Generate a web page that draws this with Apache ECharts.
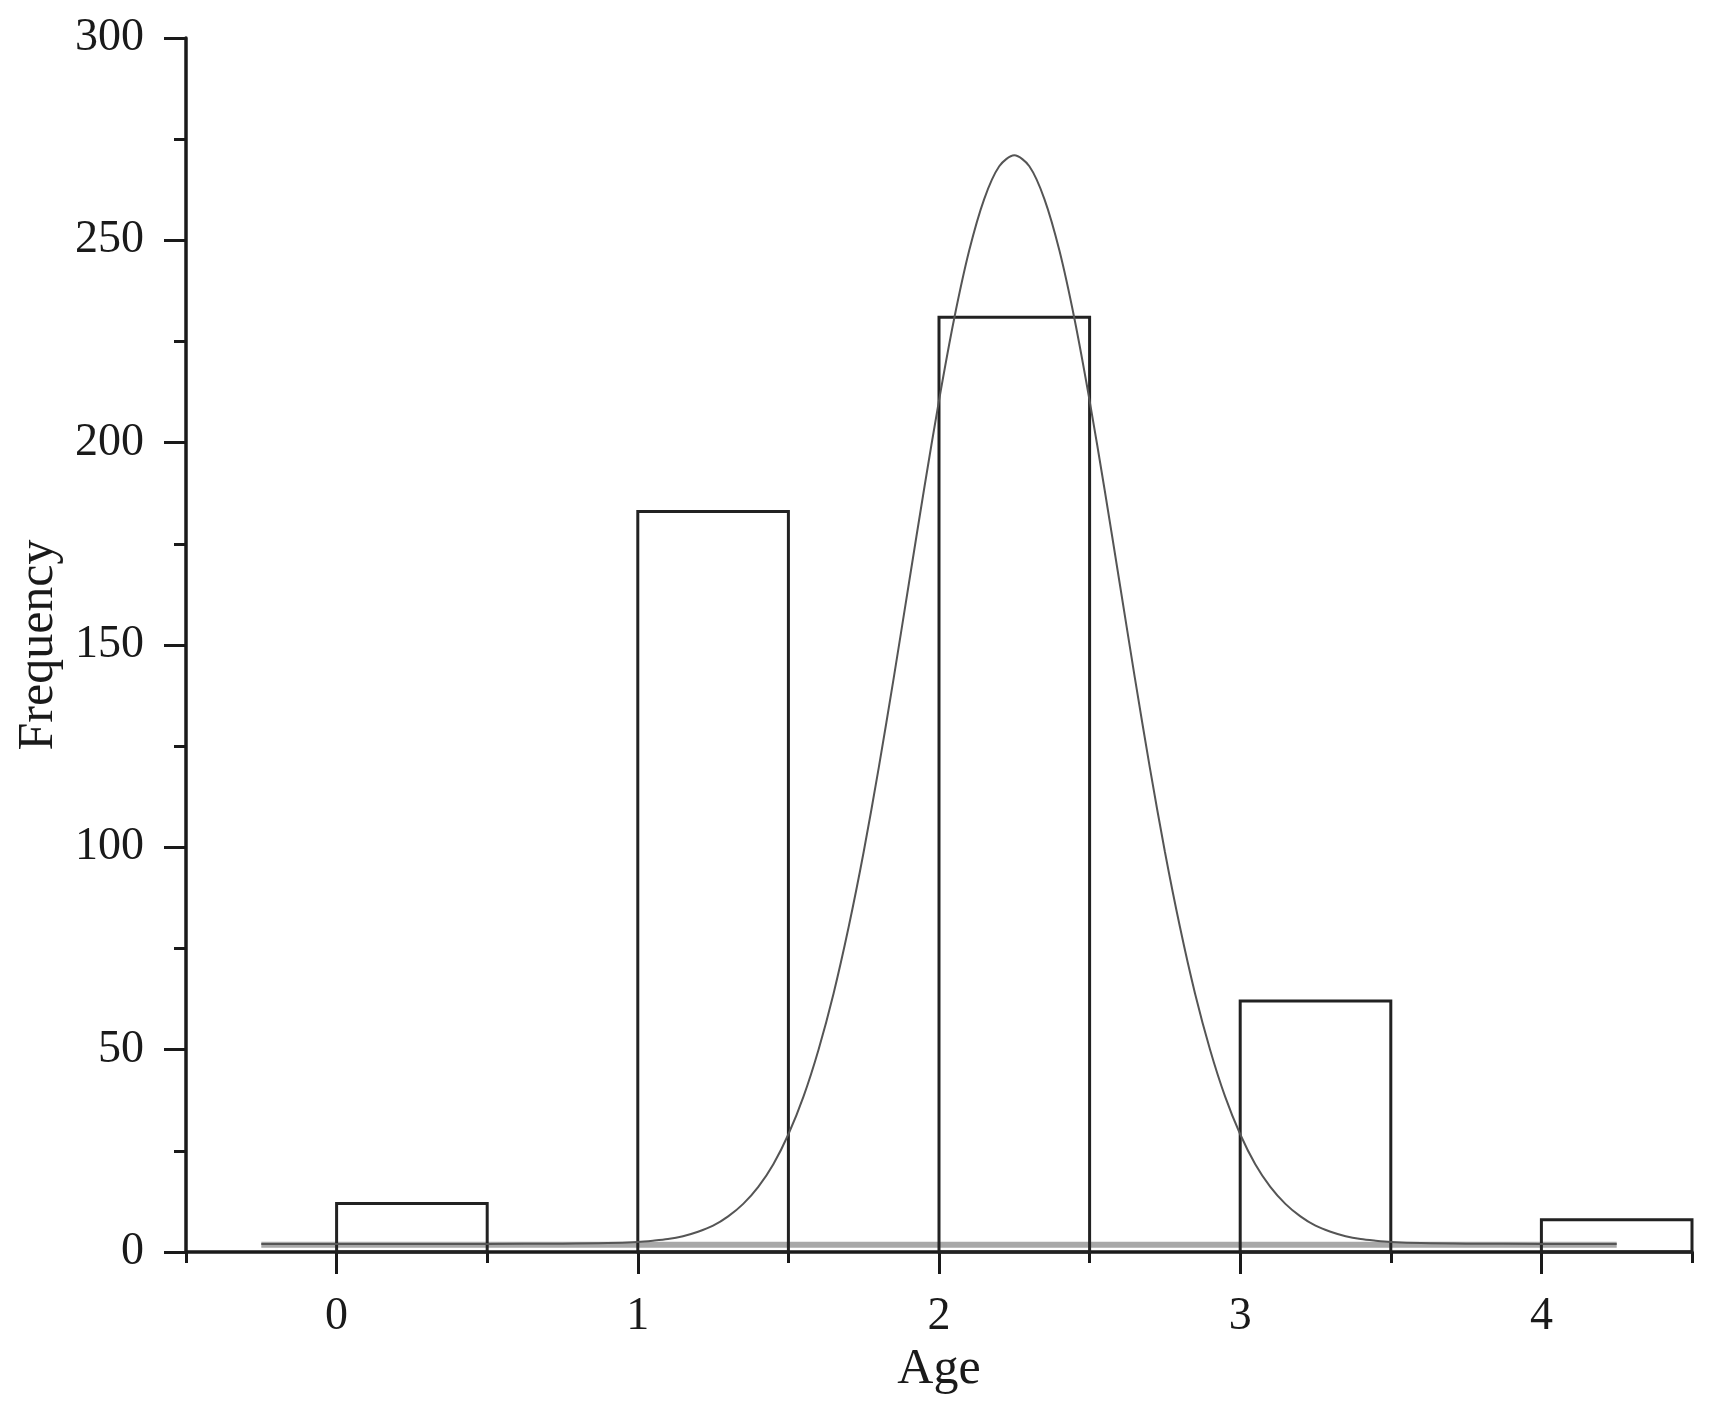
<!DOCTYPE html>
<html>
<head>
<meta charset="utf-8">
<title>Age histogram</title>
<script src="https://cdn.jsdelivr.net/npm/echarts@6/dist/echarts.min.js"></script>
<style>
html, body { margin: 0; padding: 0; background: #ffffff; }
#chart { width: 1710px; height: 1409px; }
</style>
</head>
<body>
<div id="chart"></div>
<script>
// Histogram bins (age) and their frequencies
const binStart = [0, 1, 2, 3, 4];
const binEnd = [0.5, 1.5, 2.5, 3.5, 4.5];
const frequency = [12, 183, 231, 62, 8];

// Fitted curve
const curveX = [-0.25, 0, 0.25, 0.5, 0.75, 0.9, 1.0, 1.05, 1.1, 1.15, 1.2, 1.25, 1.3, 1.35, 1.4, 1.45, 1.5, 1.55, 1.6, 1.65, 1.7, 1.75, 1.8, 1.85, 1.9, 1.95, 2.0, 2.05, 2.1, 2.15, 2.2, 2.25, 2.3, 2.35, 2.4, 2.45, 2.5, 2.55, 2.6, 2.65, 2.7, 2.75, 2.8, 2.85, 2.9, 2.95, 3.0, 3.05, 3.1, 3.15, 3.2, 3.25, 3.3, 3.35, 3.4, 3.45, 3.5, 3.6, 3.75, 4.0, 4.25];
const curveY = [2, 2, 2, 2, 2.05, 2.2, 2.5, 2.8, 3.2, 3.9, 5.0, 6.5, 8.8, 11.9, 16.1, 21.7, 29.1, 38.4, 50, 63.9, 80.3, 98.9, 119.7, 142, 165.2, 188.3, 210.4, 230.5, 247.4, 260.2, 268.3, 271, 268.3, 260.2, 247.4, 230.5, 210.4, 188.3, 165.2, 142, 119.7, 98.9, 80.3, 63.9, 50, 38.4, 29.1, 21.7, 16.1, 11.9, 8.8, 6.5, 5.0, 3.9, 3.2, 2.8, 2.5, 2.2, 2.05, 2, 2];

// Grey band along the base of the curve
const bandX = [-0.25, 4.25];
const bandY = [1.8, 1.8];

// Axis ticks
const xMajorTicks = [0, 1, 2, 3, 4];
const xMinorTicks = [-0.5, 0.5, 1.5, 2.5, 3.5, 4.5];
const yMin = 0, yMax = 300, yStep = 50;

const FONT = "'Liberation Serif', 'Times New Roman', 'DejaVu Serif', serif";
const INK = '#1a1a1a';

const chart = echarts.init(document.getElementById('chart'), null, { renderer: 'canvas' });

const barData = binStart.map((s, i) => [s, binEnd[i], frequency[i]]);

const option = {
  backgroundColor: '#ffffff',
  animation: false,
  grid: { left: 186, right: 18, top: 38, bottom: 157, containLabel: false, outerBoundsMode: 'none' },
  xAxis: [
    {
      type: 'value', min: -0.5, max: 4.5, position: 'bottom',
      name: 'Age', nameLocation: 'middle', nameGap: 85,
      nameTextStyle: { fontFamily: FONT, fontSize: 50, color: INK },
      axisLine: { show: true, onZero: false, lineStyle: { color: INK, width: 3.5 } },
      axisTick: { show: true, customValues: xMajorTicks, length: 22, inside: false, lineStyle: { color: INK, width: 3 } },
      axisLabel: { show: true, customValues: xMajorTicks, margin: 42, fontFamily: FONT, fontSize: 46, color: INK },
      splitLine: { show: false }
    },
    {
      type: 'value', min: -0.5, max: 4.5, position: 'bottom', offset: 0,
      axisLine: { show: false, onZero: false },
      axisTick: { show: true, customValues: xMinorTicks, length: 11, lineStyle: { color: INK, width: 3 } },
      axisLabel: { show: false },
      splitLine: { show: false }
    }
  ],
  yAxis: {
    type: 'value', min: yMin, max: yMax, interval: yStep,
    name: 'Frequency', nameLocation: 'middle', nameGap: 122, nameRotate: 90,
    nameTextStyle: { fontFamily: FONT, fontSize: 50, color: INK },
    axisLine: { show: true, onZero: false, lineStyle: { color: INK, width: 3.5 } },
    axisTick: { show: true, length: 22, lineStyle: { color: INK, width: 3 } },
    minorTick: { show: true, splitNumber: 2, length: 12, lineStyle: { color: INK, width: 3 } },
    axisLabel: { margin: 42, fontFamily: FONT, fontSize: 46, color: INK },
    splitLine: { show: false }
  },
  series: [
    {
      type: 'line', name: 'band', xAxisIndex: 0,
      data: bandX.map((x, i) => [x, bandY[i]]),
      showSymbol: false, symbol: 'none',
      lineStyle: { color: '#a8a8a8', width: 6 },
      z: 1, silent: true
    },
    {
      type: 'custom', name: 'Frequency', xAxisIndex: 0,
      data: barData,
      encode: { x: [0, 1], y: 2 },
      renderItem: function (params, api) {
        const p0 = api.coord([api.value(0), api.value(2)]);
        const p1 = api.coord([api.value(1), 0]);
        return {
          type: 'rect',
          shape: { x: p0[0], y: p0[1], width: p1[0] - p0[0], height: p1[1] - p0[1] },
          style: { fill: 'none', stroke: '#222222', lineWidth: 3 }
        };
      },
      z: 2
    },
    {
      type: 'line', name: 'fit', xAxisIndex: 0,
      data: curveX.map((x, i) => [x, curveY[i]]),
      smooth: 0.3, showSymbol: false, symbol: 'none',
      lineStyle: { color: '#555555', width: 2 },
      z: 3
    }
  ]
};

chart.setOption(option);
</script>
</body>
</html>
